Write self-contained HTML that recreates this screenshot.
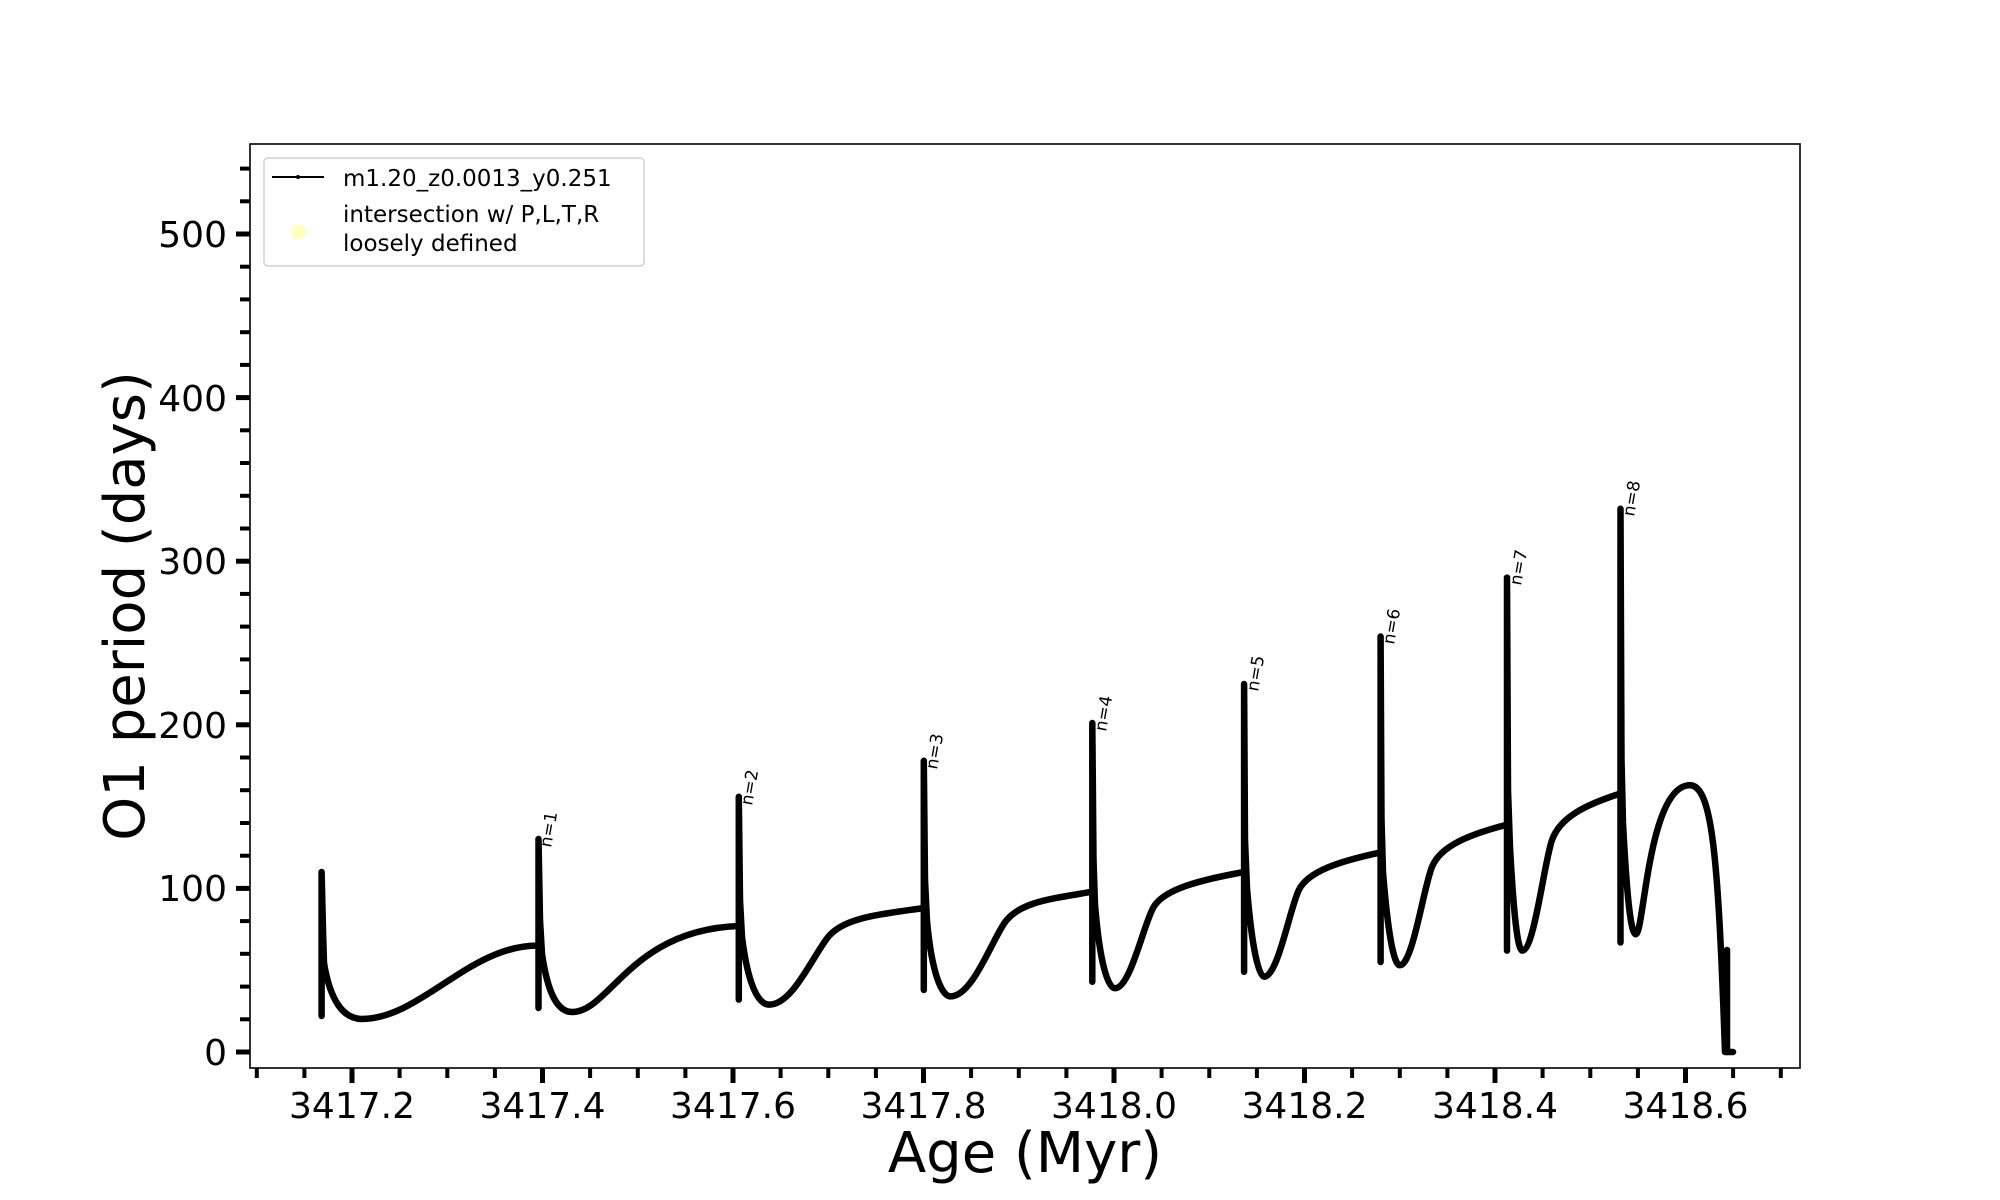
<!DOCTYPE html>
<html><head><meta charset="utf-8"><style>
html,body{margin:0;padding:0;background:#fff;}
svg{display:block;}
text{font-family:"DejaVu Sans","Liberation Sans",sans-serif;}
</style></head><body>
<svg width="2000" height="1200" viewBox="0 0 2000 1200" xmlns="http://www.w3.org/2000/svg">
<rect width="2000" height="1200" fill="#fff"/>
<g fill="none" stroke="#000" stroke-width="6.5" stroke-linejoin="round" stroke-linecap="round">
<path d="M321.6,1016 L321.6,872 L323,930 L324,963 C330,1000 343,1019 362,1019 C420,1019 470,945 538,945.6"/>
<path d="M538.5,945.6 L538.5,1008 L538.5,839 L540,920 L542,954 C548,995 558,1012 572,1012 C610,1012 630,930 738.8,926"/>
<path d="M738.8,926 L738.8,999.6 L738.8,796.8 L740,900 L742,937 C748,985 758,1004.6 769.4,1004.6 C792.6,1004.6 812.6,956.3 828.1,937 S877.5,914.8 923.8,908"/>
<path d="M923.8,908 L923.8,990 L923.8,760.8 L925,880 L927,921 C932,975 942,996.4 950.6,996.4 C971.9,996.4 990.3,944 1004.4,923.1 S1049.8,899 1092.3,891.7"/>
<path d="M1092.3,891.7 L1092.3,981.7 L1092.3,723 L1093.5,860 L1095,904.8 C1100,965 1108,988.2 1115,988.2 C1130.5,988.2 1143.4,924.3 1153.7,906.9 S1198.9,880.1 1244.1,872"/>
<path d="M1244.1,872 L1244.1,971.8 L1244.1,684 L1245,840 L1247,888 C1252,950 1259,976.7 1264,976.7 C1278,976.7 1289.7,908.3 1299,889.7 S1339.8,861.1 1380.6,852.4"/>
<path d="M1380.6,852.4 L1380.6,962 L1380.6,636.5 L1381.5,820 L1383,872 C1388,935 1394,965.3 1399.8,965.3 C1412.7,965.3 1423.4,887.9 1432,866.8 S1469.5,834.4 1507,824.6"/>
<path d="M1507,824.6 L1507,950.6 L1507,577.6 L1508,790 L1510,847.5 C1514,920 1518,950.6 1522.3,950.6 C1534.1,950.6 1543.9,864.2 1551.8,840.6 S1586.1,804.5 1620.5,793.5"/>
<path d="M1620.5,793.5 L1620.5,942.4 L1620.5,508.8 L1621.5,760 L1623,823 C1627,900 1631,934.2 1635.8,934.2 C1644,934 1648,790 1688,785.3 C1712,782 1718,850 1725,1052 L1733,1052"/>
<path d="M1727,950 L1727,1052"/>
</g>
<g font-size="17" fill="#000">
<text transform="translate(551,848) rotate(-80)">n=1</text>
<text transform="translate(752,806) rotate(-80)">n=2</text>
<text transform="translate(937,770) rotate(-80)">n=3</text>
<text transform="translate(1106,732) rotate(-80)">n=4</text>
<text transform="translate(1258,692) rotate(-80)">n=5</text>
<text transform="translate(1394,645) rotate(-80)">n=6</text>
<text transform="translate(1521,586) rotate(-80)">n=7</text>
<text transform="translate(1634,517) rotate(-80)">n=8</text>
</g>
<rect x="250" y="144" width="1550" height="924" fill="none" stroke="#000" stroke-width="1.6"/>
<g stroke="#000" stroke-width="5">
<line x1="236" y1="1052" x2="250" y2="1052"/>
<line x1="236" y1="888.4" x2="250" y2="888.4"/>
<line x1="236" y1="724.8" x2="250" y2="724.8"/>
<line x1="236" y1="561.2" x2="250" y2="561.2"/>
<line x1="236" y1="397.6" x2="250" y2="397.6"/>
<line x1="236" y1="234" x2="250" y2="234"/>
</g>
<g stroke="#000" stroke-width="4">
<line x1="240" y1="1019.3" x2="250" y2="1019.3"/><line x1="240" y1="986.6" x2="250" y2="986.6"/><line x1="240" y1="953.8" x2="250" y2="953.8"/><line x1="240" y1="921.1" x2="250" y2="921.1"/>
<line x1="240" y1="855.7" x2="250" y2="855.7"/><line x1="240" y1="823" x2="250" y2="823"/><line x1="240" y1="790.2" x2="250" y2="790.2"/><line x1="240" y1="757.5" x2="250" y2="757.5"/>
<line x1="240" y1="692.1" x2="250" y2="692.1"/><line x1="240" y1="659.4" x2="250" y2="659.4"/><line x1="240" y1="626.6" x2="250" y2="626.6"/><line x1="240" y1="593.9" x2="250" y2="593.9"/>
<line x1="240" y1="528.5" x2="250" y2="528.5"/><line x1="240" y1="495.8" x2="250" y2="495.8"/><line x1="240" y1="463" x2="250" y2="463"/><line x1="240" y1="430.3" x2="250" y2="430.3"/>
<line x1="240" y1="364.9" x2="250" y2="364.9"/><line x1="240" y1="332.2" x2="250" y2="332.2"/><line x1="240" y1="299.4" x2="250" y2="299.4"/><line x1="240" y1="266.7" x2="250" y2="266.7"/>
<line x1="240" y1="201.3" x2="250" y2="201.3"/><line x1="240" y1="168.6" x2="250" y2="168.6"/>
</g>
<g font-size="36" text-anchor="end" fill="#000">
<text x="227" y="1065">0</text>
<text x="227" y="901">100</text>
<text x="227" y="738">200</text>
<text x="227" y="574">300</text>
<text x="227" y="411">400</text>
<text x="227" y="247">500</text>
</g>
<g stroke="#000" stroke-width="5">
<line x1="352" y1="1068" x2="352" y2="1083"/><line x1="542.5" y1="1068" x2="542.5" y2="1083"/><line x1="733" y1="1068" x2="733" y2="1083"/><line x1="923.5" y1="1068" x2="923.5" y2="1083"/><line x1="1114" y1="1068" x2="1114" y2="1083"/><line x1="1304.5" y1="1068" x2="1304.5" y2="1083"/><line x1="1495" y1="1068" x2="1495" y2="1083"/><line x1="1685.5" y1="1068" x2="1685.5" y2="1083"/>
</g>
<g stroke="#000" stroke-width="4">
<line x1="256.8" y1="1068" x2="256.8" y2="1078"/><line x1="304.4" y1="1068" x2="304.4" y2="1078"/><line x1="399.6" y1="1068" x2="399.6" y2="1078"/><line x1="447.3" y1="1068" x2="447.3" y2="1078"/><line x1="494.9" y1="1068" x2="494.9" y2="1078"/>
<line x1="590.1" y1="1068" x2="590.1" y2="1078"/><line x1="637.8" y1="1068" x2="637.8" y2="1078"/><line x1="685.4" y1="1068" x2="685.4" y2="1078"/>
<line x1="780.6" y1="1068" x2="780.6" y2="1078"/><line x1="828.3" y1="1068" x2="828.3" y2="1078"/><line x1="875.9" y1="1068" x2="875.9" y2="1078"/>
<line x1="971.1" y1="1068" x2="971.1" y2="1078"/><line x1="1018.8" y1="1068" x2="1018.8" y2="1078"/><line x1="1066.4" y1="1068" x2="1066.4" y2="1078"/>
<line x1="1161.6" y1="1068" x2="1161.6" y2="1078"/><line x1="1209.3" y1="1068" x2="1209.3" y2="1078"/><line x1="1256.9" y1="1068" x2="1256.9" y2="1078"/>
<line x1="1352.1" y1="1068" x2="1352.1" y2="1078"/><line x1="1399.8" y1="1068" x2="1399.8" y2="1078"/><line x1="1447.4" y1="1068" x2="1447.4" y2="1078"/>
<line x1="1542.6" y1="1068" x2="1542.6" y2="1078"/><line x1="1590.3" y1="1068" x2="1590.3" y2="1078"/><line x1="1637.9" y1="1068" x2="1637.9" y2="1078"/>
<line x1="1733.1" y1="1068" x2="1733.1" y2="1078"/><line x1="1780.8" y1="1068" x2="1780.8" y2="1078"/>
</g>
<g font-size="36" text-anchor="middle" fill="#000">
<text x="352" y="1118">3417.2</text>
<text x="542.5" y="1118">3417.4</text>
<text x="733" y="1118">3417.6</text>
<text x="923.5" y="1118">3417.8</text>
<text x="1114" y="1118">3418.0</text>
<text x="1304.5" y="1118">3418.2</text>
<text x="1495" y="1118">3418.4</text>
<text x="1685.5" y="1118">3418.6</text>
</g>
<text x="1025" y="1172" font-size="56" text-anchor="middle">Age (Myr)</text>
<text transform="translate(144,606) rotate(-90)" font-size="56" text-anchor="middle">O1 period (days)</text>
<rect x="264" y="158" width="380" height="108" rx="4" fill="#fff" stroke="#d0d0d0" stroke-width="1.5"/>
<line x1="272" y1="177" x2="324" y2="177" stroke="#000" stroke-width="2"/>
<circle cx="298" cy="177" r="2" fill="#000"/>
<circle cx="298" cy="232" r="7.5" fill="#ffffc0"/>
<g font-size="23" fill="#000">
<text x="343" y="186">m1.20_z0.0013_y0.251</text>
<text x="343" y="222">intersection w/ P,L,T,R</text>
<text x="343" y="251">loosely defined</text>
</g>
</svg>
</body></html>
